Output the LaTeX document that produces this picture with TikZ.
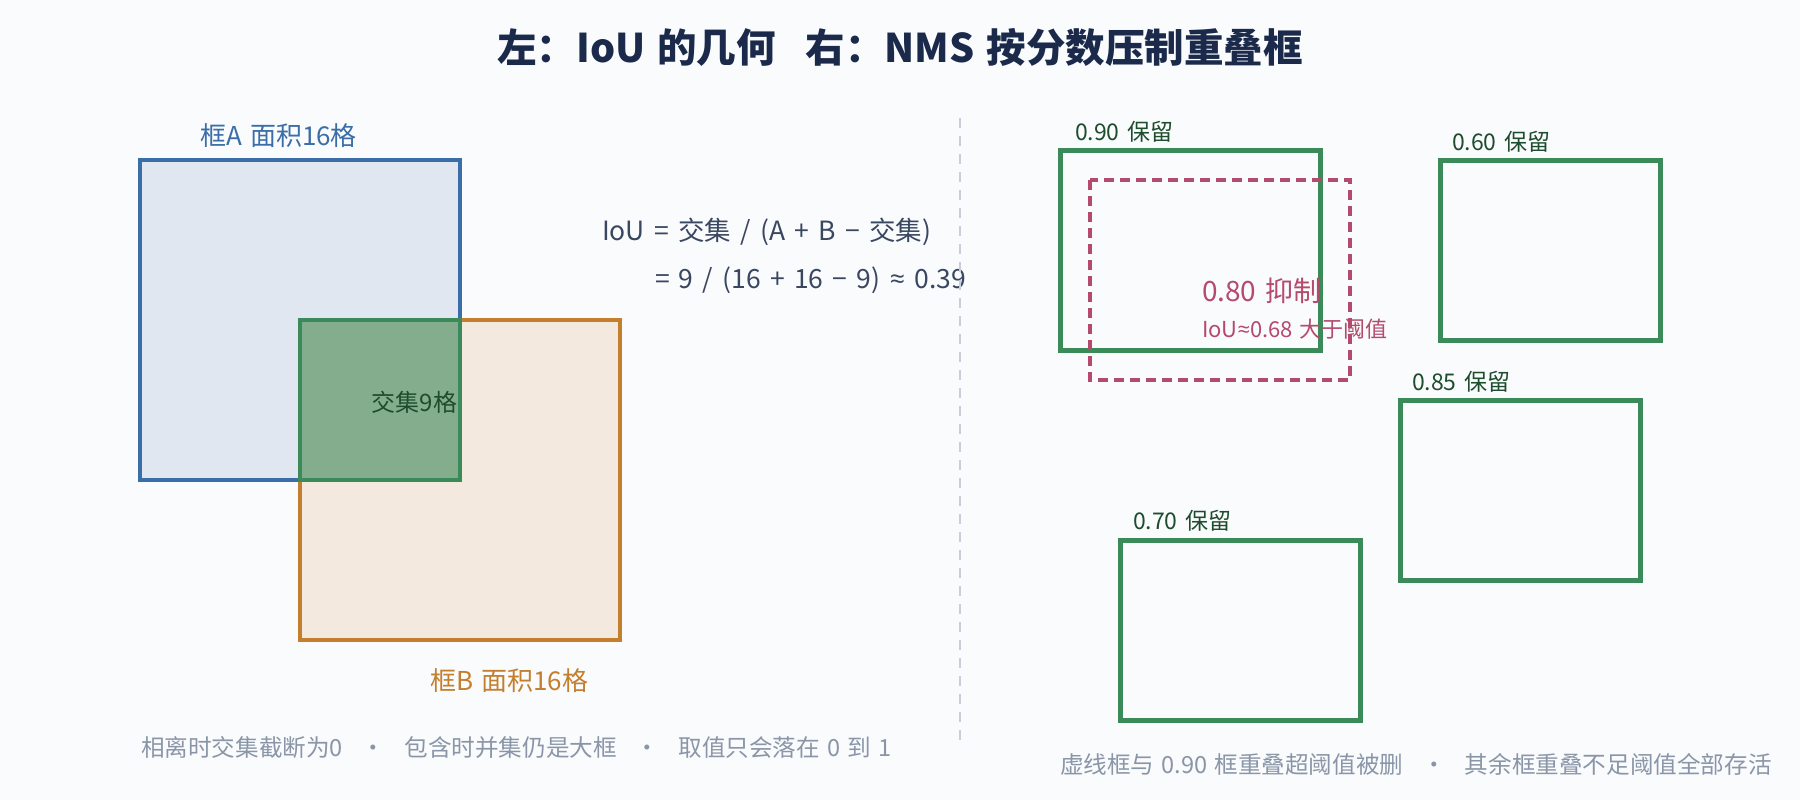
\documentclass[tikz,border=0pt]{standalone}
\usepackage{fontspec}
\setmainfont{Noto Sans CJK SC}
\newfontfamily\latf{Open Sans}
\definecolor{bg}{HTML}{FAFBFD}
\definecolor{titlec}{HTML}{1B2A4A}
\definecolor{blueA}{HTML}{3B6EA8}
\definecolor{blueF}{HTML}{E0E7F1}
\definecolor{orgB}{HTML}{C47F2E}
\definecolor{orgF}{HTML}{F4E9DE}
\definecolor{grn}{HTML}{3B8A5A}
\definecolor{grnF}{HTML}{84AD8D}
\definecolor{grnT}{HTML}{1E4D2E}
\definecolor{rose}{HTML}{B44A6C}
\definecolor{slate}{HTML}{3A4760}
\definecolor{foot}{HTML}{8A96A8}
\definecolor{divc}{HTML}{C8CED8}
\newcommand{\fs}[2]{\fontsize{#1pt}{#1pt}\selectfont\spaceskip=#2em\relax}
\newcommand{\approxg}{{\latf ≈}}
\begin{document}
\begin{tikzpicture}[x=1pt,y=-1pt,
  txt/.style={inner sep=0pt,outer sep=0pt},
  keepbox/.style={draw=grn,line width=5pt},
  keeplab/.style={txt,anchor=west,text=grnT,font=\fs{23}{0.32}},
  footlab/.style={txt,anchor=west,text=foot,font=\fs{23.6}{0.3}},
  formula/.style={txt,anchor=west,text=slate,font=\fs{26.5}{0.35}}]
\useasboundingbox[fill=bg] (0,0) rectangle (1800,800);
% title
\node[txt,text=titlec,font=\fs{39.5}{0.3}\bfseries] (title) at (900,47) {左：IoU 的几何\hspace{30pt}右：NMS 按分数压制重叠框};
% left: IoU
\draw[fill=blueF,draw=blueA,line width=4.5pt] (140,160) rectangle (460,480);
\draw[fill=orgF,draw=orgB,line width=4.5pt] (300,320) rectangle (620,640);
\draw[fill=grnF,draw=grn,line width=4.5pt] (300,320) rectangle (460,480);
\node[txt,anchor=west,text=blueA,font=\fs{26}{0.32}] (labA) at (200,136) {框A 面积16格};
\node[txt,anchor=west,text=orgB,font=\fs{26}{0.32}] (labB) at (430,681) {框B 面积16格};
\node[txt,anchor=east,text=grnT,font=\fs{24}{0.3}] (inter) at (457,402) {交集9格};
\node[formula] (f1) at (602,232) {IoU = 交集 / (A + B − 交集)};
\node[formula] (f2) at (655,280) {= 9 / (16 + 16 − 9) \approxg{} 0.39};
% divider
\coordinate (d1) at (960,118);
\coordinate (d2) at (960,740);
\draw[divc,line width=2pt,dash pattern=on 10pt off 8pt] (d1) -- (d2);
% right: NMS
\draw[keepbox] (1060,150) rectangle (1320,350);
\draw[keepbox] (1440,160) rectangle (1660,340);
\draw[keepbox] (1400,400) rectangle (1640,580);
\draw[keepbox] (1120,540) rectangle (1360,720);
\draw[draw=rose,line width=3.5pt,dash pattern=on 10pt off 6pt] (1090,180) rectangle (1350,380);
\node[keeplab] (k90) at (1075,132) {0.90 保留};
\node[keeplab] (k60) at (1452,142) {0.60 保留};
\node[keeplab] (k85) at (1412,382) {0.85 保留};
\node[keeplab] (k70) at (1133,521) {0.70 保留};
\node[txt,anchor=west,text=rose,font=\fs{28}{0.32}] (s80) at (1202,291) {0.80 抑制};
\node[txt,anchor=west,text=rose,font=\fs{22}{0.3}] (s80b) at (1202,329) {IoU\approxg{}0.68 大于阈值};
% footers
\node[footlab] (fl) at (141,748) {相离时交集截断为0\hspace{19pt}·\hspace{19pt}包含时并集仍是大框\hspace{19pt}·\hspace{19pt}取值只会落在 0 到 1};
\node[footlab] (fr) at (1060,764) {虚线框与 0.90 框重叠超阈值被删\hspace{19pt}·\hspace{19pt}其余框重叠不足阈值全部存活};
\end{tikzpicture}
\end{document}
